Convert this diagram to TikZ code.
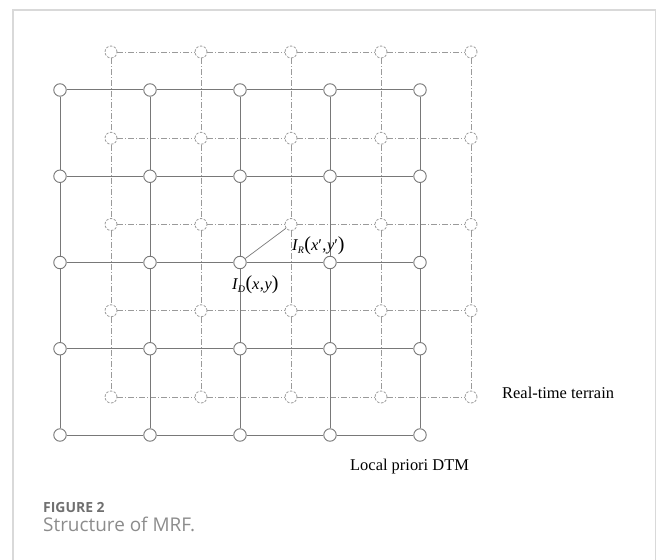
\documentclass[tikz,border=0pt]{standalone}
\usepackage{fontspec}
\setmainfont{Liberation Serif}
\newfontfamily\capfont{Open Sans}
\definecolor{framecol}{HTML}{D9D9D9}
\definecolor{solidcol}{HTML}{787878}
\definecolor{dashcol}{HTML}{9A9A9A}
\definecolor{capdark}{HTML}{707070}
\definecolor{caplight}{HTML}{8C8C8C}
\newcommand{\ir}{\textit{I}\kern-0.5pt\raisebox{-3pt}{\fontsize{10}{10}\selectfont\textit{R}}\kern0.5pt{\fontsize{20}{20}\selectfont(}\textit{x}′\kern0.5pt,\kern0.5pt\textit{y}′{\fontsize{20}{20}\selectfont)}}
\newcommand{\id}{\textit{I}\kern-0.5pt\raisebox{-3pt}{\fontsize{10}{10}\selectfont\textit{D}}\kern0.5pt{\fontsize{20}{20}\selectfont(}\textit{x}\kern0.5pt,\kern0.5pt\textit{y}{\fontsize{20}{20}\selectfont)}}
\begin{document}
\begin{tikzpicture}[x=1bp,y=-1bp,
  snode/.style={circle, draw=solidcol, fill=white, line width=0.9bp, minimum size=12.5bp, inner sep=0pt},
  dnode/.style={circle, draw=dashcol, fill=white, line width=0.8bp, dash pattern=on 2.5bp off 1.5bp, minimum size=12bp, inner sep=0pt},
  sline/.style={draw=solidcol, line width=1bp},
  dline/.style={draw=dashcol, line width=0.8bp, dash pattern=on 6bp off 2bp on 1bp off 2bp},
  lbl/.style={anchor=west, inner sep=0pt, font=\fontsize{16.5}{18}\selectfont}
]
\useasboundingbox (0,0) rectangle (656,560);
\draw[framecol, line width=1.5bp] (13,570) -- (13,10) -- (655.5,10) -- (655.5,570);
% real-time terrain grid (dash-dot)
\foreach \i in {0,...,4}{
  \foreach \j in {0,...,4}{
    \node[dnode] (d\i\j) at ({111+90*\i},{52+86.25*\j}) {};
  }
}
\foreach \i in {0,...,4}{
  \foreach \j [evaluate=\j as \k using int(\j+1)] in {0,...,3}{
    \draw[dline] (d\i\j) -- (d\i\k);
    \draw[dline] (d\j\i) -- (d\k\i);
  }
}
% local priori DTM grid (solid)
\foreach \i in {0,...,4}{
  \foreach \j in {0,...,4}{
    \node[snode] (s\i\j) at ({60+90*\i},{90+86.25*\j}) {};
  }
}
\foreach \i in {0,...,4}{
  \foreach \j [evaluate=\j as \k using int(\j+1)] in {0,...,3}{
    \draw[sline] (s\i\j) -- (s\i\k);
    \draw[sline] (s\j\i) -- (s\k\i);
  }
}
\draw[solidcol, line width=0.7bp] (s22) -- (d22);
\node[lbl] (lr) at (292,246) {\ir};
\node[lbl] (ld) at (232,285) {\id};
\node[lbl] (rt) at (502,393) {Real-time terrain};
\node[lbl] (lp) at (350,467) {Local priori DTM};
\node[anchor=west, inner sep=0pt, text=capdark, font=\capfont\bfseries\fontsize{14}{16}\selectfont] (fig) at (43,508) {FIGURE 2};
\node[anchor=west, inner sep=0pt, text=caplight, font=\capfont\fontsize{19}{21}\selectfont] (cap) at (43,524) {Structure of MRF.};
\end{tikzpicture}
\end{document}
